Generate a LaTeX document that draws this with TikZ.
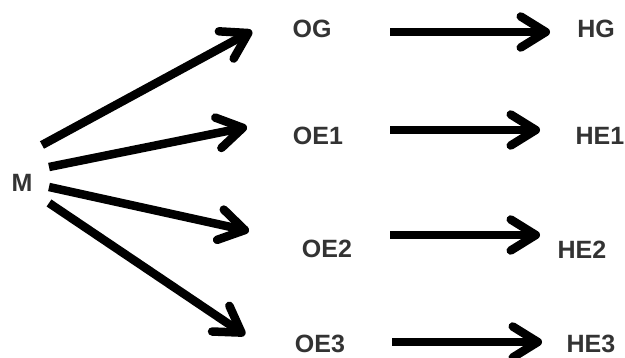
\documentclass[tikz,border=0pt]{standalone}
\usepackage{fontspec}
\setmainfont{Liberation Sans}
\usetikzlibrary{arrows.meta}
\begin{document}
\begin{tikzpicture}[x=1pt, y=-1pt, font=\fontsize{25}{25}\selectfont\bfseries]

        % --- STYLES ---
        \tikzstyle{label_node} = [text=black!80, inner sep=0pt]
        \tikzstyle{arrow} = [draw=black, line width=8.5pt, -{Straight Barb[length=25pt, width=31pt, round]}]

        % --- CANVAS ---
        \useasboundingbox (0,0) rectangle (625,358);

        % --- LABELS ---
        \node[label_node] (M) at (22,183) {M};

        \node[label_node] (OG)  at (312,29)  {OG};
        \node[label_node] (OE1) at (318,136) {OE1};
        \node[label_node] (OE2) at (327,249) {OE2};
        \node[label_node] (OE3) at (320,344) {OE3};

        \node[label_node] (HG)  at (596,29)  {HG};
        \node[label_node] (HE1) at (600,136) {HE1};
        \node[label_node] (HE2) at (582,250) {HE2};
        \node[label_node] (HE3) at (591,344) {HE3};

        % --- ARROWS FROM M ---
        \draw[arrow] ([shift={(20,-38)}]M.center) -- ([shift={(-60,2)}]OG.center);
        \draw[arrow] ([shift={(27,-16)}]M.center) -- ([shift={(-71,-9)}]OE1.center);
        \draw[arrow] ([shift={(27,4)}]M.center) -- ([shift={(-78,-18)}]OE2.center);
        \draw[arrow] ([shift={(27,20)}]M.center) -- ([shift={(-75,-9)}]OE3.center);

        % --- ARROWS O -> H ---
        \draw[arrow] ([shift={(78,3)}]OG.center) -- ([shift={(-46,3)}]HG.center);
        \draw[arrow] ([shift={(72,-6)}]OE1.center) -- ([shift={(-60,-6)}]HE1.center);
        \draw[arrow] ([shift={(63,-14)}]OE2.center) -- ([shift={(-42,-15)}]HE2.center);
        \draw[arrow] ([shift={(72,-2)}]OE3.center) -- ([shift={(-49,-2)}]HE3.center);

    \end{tikzpicture}
\end{document}
